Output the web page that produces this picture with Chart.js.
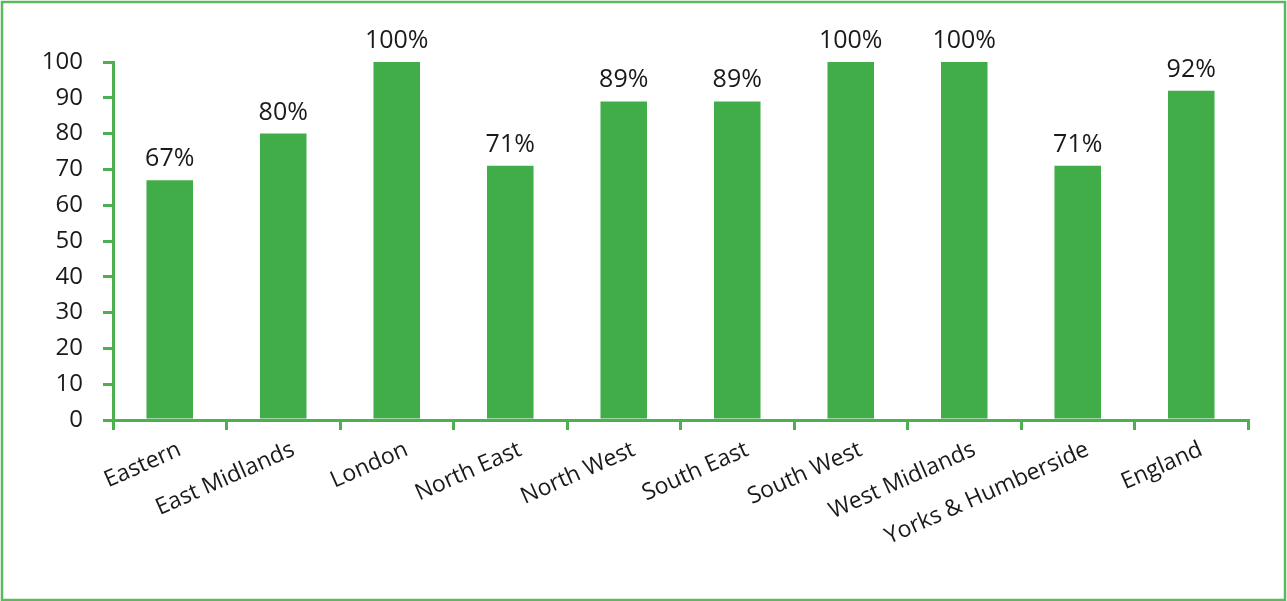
<!DOCTYPE html>
<html>
<head>
<meta charset="utf-8">
<script src="https://cdn.jsdelivr.net/npm/chart.js@4.4.1/dist/chart.umd.min.js"></script>
<style>
  html, body { margin: 0; padding: 0; background: #fff; }
  #wrap { width: 1287px; height: 601px; position: relative; }
</style>
</head>
<body>
<div id="wrap"><canvas id="chart" width="1287" height="601"></canvas></div>
<script>
// Regional percentages
const regions = ['Eastern', 'East Midlands', 'London', 'North East', 'North West',
  'South East', 'South West', 'West Midlands', 'Yorks & Humberside', 'England'];
const percentValues = [67, 80, 100, 71, 89, 89, 100, 100, 71, 92];
const yTicks = [0, 10, 20, 30, 40, 50, 60, 70, 80, 90, 100];

const GREEN = '#41ad49';
const AXIS_GREEN = '#4caf50';
const FONT = "'Open Sans', 'Noto Sans', sans-serif";

// outer green frame round the canvas
const framePlugin = {
  id: 'frame',
  beforeDraw(chart) {
    const { ctx, width, height } = chart;
    ctx.save();
    ctx.fillStyle = '#fff';
    ctx.fillRect(0, 0, width, height);
    ctx.strokeStyle = '#5cb85c';
    ctx.lineWidth = 2.5;
    ctx.strokeRect(2, 2, width - 4, height - 3);
    ctx.restore();
  }
};

// value labels above each bar
const valueLabels = {
  id: 'valueLabels',
  afterDatasetsDraw(chart) {
    const { ctx } = chart;
    const meta = chart.getDatasetMeta(0);
    ctx.save();
    ctx.font = '25px ' + FONT;
    ctx.fillStyle = '#1a1a1a';
    ctx.textAlign = 'center';
    ctx.textBaseline = 'alphabetic';
    meta.data.forEach((bar, i) => {
      ctx.fillText(percentValues[i] + '%', bar.x, bar.y - 14);
    });
    ctx.restore();
  }
};

new Chart(document.getElementById('chart'), {
  type: 'bar',
  data: {
    labels: regions,
    datasets: [{
      data: percentValues,
      backgroundColor: GREEN,
      borderWidth: 0,
      categoryPercentage: 1,
      barPercentage: 0.41
    }]
  },
  options: {
    responsive: false,
    animation: false,
    layout: { padding: { top: 62, right: 39, bottom: 0, left: 0 } },
    plugins: { legend: { display: false }, tooltip: { enabled: false } },
    scales: {
      x: {
        offset: true,
        grid: { offset: true, drawOnChartArea: false, drawTicks: true, tickLength: 10, color: AXIS_GREEN, lineWidth: 3 },
        border: { color: AXIS_GREEN, width: 3 },
        ticks: {
          color: '#1a1a1a', font: { family: FONT, size: 23 },
          minRotation: 24, maxRotation: 24, padding: 6, labelOffset: 10, autoSkip: false
        },
        afterFit(scale) { scale.height = 181; }
      },
      y: {
        min: 0, max: 100,
        afterBuildTicks(scale) { scale.ticks = yTicks.map(v => ({ value: v })); },
        grid: { drawOnChartArea: false, drawTicks: true, tickLength: 10, color: AXIS_GREEN, lineWidth: 3 },
        border: { color: AXIS_GREEN, width: 3 },
        ticks: { color: '#1a1a1a', font: { family: FONT, size: 24 }, padding: 20 },
        afterFit(scale) { scale.width = 113; }
      }
    }
  },
  plugins: [framePlugin, valueLabels]
});
</script>
</body>
</html>
